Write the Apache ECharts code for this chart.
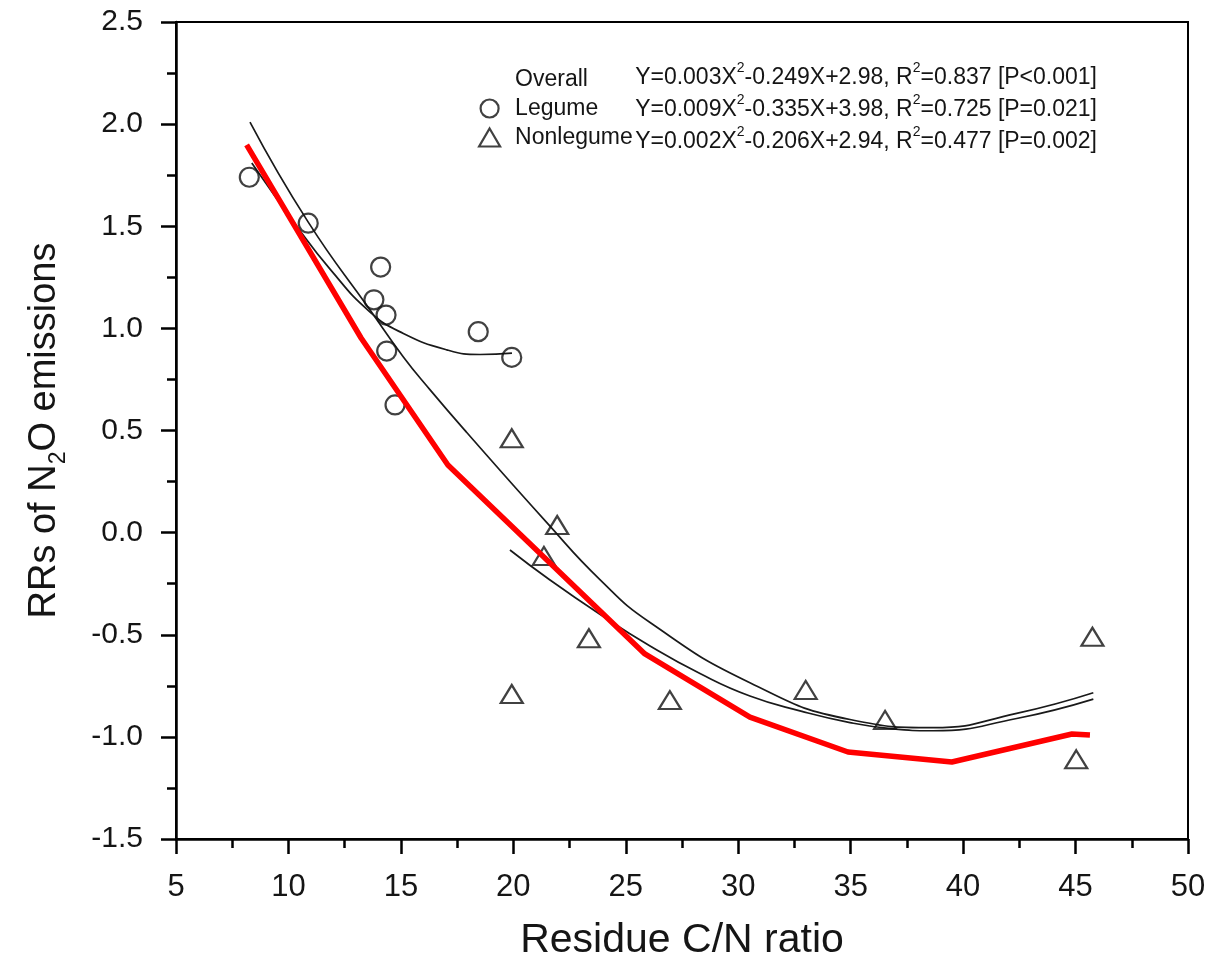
<!DOCTYPE html>
<html>
<head>
<meta charset="utf-8">
<script src="https://cdn.jsdelivr.net/npm/echarts@6/dist/echarts.min.js"></script>
<style>
html,body{margin:0;padding:0;background:#fff;}
#main{width:1212px;height:967px;}
</style>
</head>
<body>
<div id="main"></div>
<script>
// ---- Data ----
var xTicks = [5, 10, 15, 20, 25, 30, 35, 40, 45, 50];
var yTicks = [-1.5, -1.0, -0.5, 0.0, 0.5, 1.0, 1.5, 2.0, 2.5];

// Legume observations (circles)
var legumePoints = [
  [8.26, 1.74], [10.88, 1.515], [14.10, 1.30], [13.80, 1.14], [14.34, 1.065],
  [14.37, 0.889], [14.74, 0.625], [18.44, 0.984], [19.93, 0.858]
];
// Nonlegume observations (triangles)
var nonlegumePoints = [
  [19.93, 0.462], [21.95, 0.037], [21.36, -0.114], [23.36, -0.517], [19.93, -0.79],
  [26.96, -0.82], [33.0, -0.77], [36.53, -0.917], [45.75, -0.51], [45.03, -1.11]
];
// Fitted curves
var overallCurve = [
  [8.29, 2.01], [10.88, 1.52], [13.63, 1.09], [15.11, 0.86], [16.29, 0.70], [17.93, 0.49],
  [21.48, 0.05], [23.85, -0.23], [26.08, -0.44], [30.52, -0.735], [34.97, -0.915],
  [38.67, -0.955], [42.38, -0.885], [45.79, -0.784]
];
var legumeCurve = [
  [8.37, 1.81], [10.37, 1.50], [11.85, 1.29], [13.63, 1.08], [15.11, 0.975],
  [17.04, 0.895], [18.52, 0.872], [19.94, 0.879]
];
var nonlegumeCurve = [
  [19.85, -0.085], [21.63, -0.232], [23.85, -0.40], [26.08, -0.555], [28.3, -0.69],
  [30.52, -0.80], [32.83, -0.875], [34.97, -0.93], [36.8, -0.96], [38.67, -0.97],
  [42.38, -0.91], [45.79, -0.815]
];
// Red polyline
var redLine = [
  [8.14, 1.898], [13.23, 0.953], [17.09, 0.331], [25.85, -0.594], [30.52, -0.903],
  [34.88, -1.074], [39.50, -1.123], [44.84, -0.986], [45.64, -0.991]
];

var legendNames = ['Overall', 'Legume', 'Nonlegume'];
var equations = [
  'Y=0.003X{s|2}-0.249X+2.98, R{s|2}=0.837 [P<0.001]',
  'Y=0.009X{s|2}-0.335X+3.98, R{s|2}=0.725 [P=0.021]',
  'Y=0.002X{s|2}-0.206X+2.94, R{s|2}=0.477 [P=0.002]'
];

var FONT = 'Liberation Sans, Arial, sans-serif';
var TXT = '#151515';
var chart = echarts.init(document.getElementById('main'));

var eqGraphics = equations.map(function (eq, i) {
  return {
    type: 'text',
    right: 1212 - 1097,
    top: 61 + i * 32,
    style: {
      text: '{b|' + eq.replace(/\{s\|2\}/g, '}{s|2}{b|') + '}',
      font: '23px ' + FONT,
      fill: TXT,
      rich: {
        b: { fontSize: 23, fontFamily: FONT, color: TXT, lineHeight: 28, verticalAlign: 'bottom' },
        s: { fontSize: 14, fontFamily: FONT, color: TXT, lineHeight: 28, verticalAlign: 'top' }
      }
    }
  };
});

var symStyle = { color: 'rgba(255,255,255,0)', borderColor: '#111', borderWidth: 2.2 };

var option = {
  backgroundColor: '#fff',
  animation: false,
  grid: { left: 176, right: 24, top: 22, bottom: 128, show: true, borderColor: '#000', borderWidth: 2, backgroundColor: '#fff' },
  legend: {
    orient: 'vertical',
    left: 473,
    top: 63,
    itemWidth: 21,
    itemHeight: 18,
    itemGap: 6,
    selectedMode: false,
    textStyle: { fontSize: 23, fontFamily: FONT, color: TXT, padding: [0, 0, 0, 10] },
    data: [
      { name: legendNames[0], icon: 'none' },
      { name: legendNames[1], icon: 'circle', itemStyle: symStyle },
      { name: legendNames[2], icon: 'triangle', itemStyle: symStyle }
    ]
  },
  xAxis: {
    type: 'value', min: xTicks[0], max: xTicks[xTicks.length - 1], interval: 5,
    name: 'Residue C/N ratio', nameLocation: 'middle', nameGap: 81,
    nameTextStyle: { fontSize: 41, fontFamily: FONT, color: TXT },
    axisLine: { onZero: false, lineStyle: { color: '#000', width: 2.5 } },
    axisTick: { show: true, inside: false, length: 15, lineStyle: { color: '#000', width: 2.5 } },
    minorTick: { show: true, splitNumber: 2, length: 9, lineStyle: { color: '#000', width: 2.5 } },
    axisLabel: { fontSize: 31, fontFamily: FONT, color: TXT, margin: 33 },
    splitLine: { show: false }
  },
  yAxis: {
    type: 'value', min: yTicks[0], max: yTicks[yTicks.length - 1], interval: 0.5,
    name: '{t|RRs of N}{s|2}{t|O emissions}', nameLocation: 'middle', nameGap: 106, nameRotate: 90,
    nameTextStyle: {
      fontSize: 38, fontFamily: FONT, color: TXT,
      rich: {
        t: { fontSize: 38, fontFamily: FONT, color: TXT, lineHeight: 44, verticalAlign: 'top' },
        s: { fontSize: 23, fontFamily: FONT, color: TXT, lineHeight: 44, verticalAlign: 'bottom' }
      }
    },
    axisLine: { onZero: false, lineStyle: { color: '#000', width: 2.5 } },
    axisTick: { show: true, inside: false, length: 15, lineStyle: { color: '#000', width: 2.5 } },
    minorTick: { show: true, splitNumber: 2, length: 9, lineStyle: { color: '#000', width: 2.5 } },
    axisLabel: { fontSize: 30, fontFamily: FONT, color: TXT, margin: 33, formatter: function (v) { return v.toFixed(1); } },
    splitLine: { show: false }
  },
  graphic: eqGraphics,
  series: [
    { name: 'Overall', type: 'line', data: overallCurve, smooth: 0.5, showSymbol: false, symbol: 'none',
      lineStyle: { color: '#1a1a1a', width: 1.7 }, itemStyle: { color: '#1a1a1a' }, z: 3 },
    { name: 'Legume fit', type: 'line', data: legumeCurve, smooth: 0.5, showSymbol: false, symbol: 'none',
      lineStyle: { color: '#1a1a1a', width: 1.7 }, z: 3 },
    { name: 'Nonlegume fit', type: 'line', data: nonlegumeCurve, smooth: 0.5, showSymbol: false, symbol: 'none',
      lineStyle: { color: '#1a1a1a', width: 1.7 }, z: 3 },
    { name: 'Legume', type: 'scatter', data: legumePoints, symbol: 'circle', symbolSize: 19,
      itemStyle: symStyle, z: 4 },
    { name: 'Nonlegume', type: 'scatter', data: nonlegumePoints, symbol: 'triangle', symbolSize: [22, 18],
      itemStyle: symStyle, z: 4 },
    { name: 'Red', type: 'line', data: redLine, smooth: false, showSymbol: false, symbol: 'none',
      lineStyle: { color: '#ff0000', width: 5.5 }, z: 5 }
  ]
};
chart.setOption(option);
</script>
</body>
</html>
